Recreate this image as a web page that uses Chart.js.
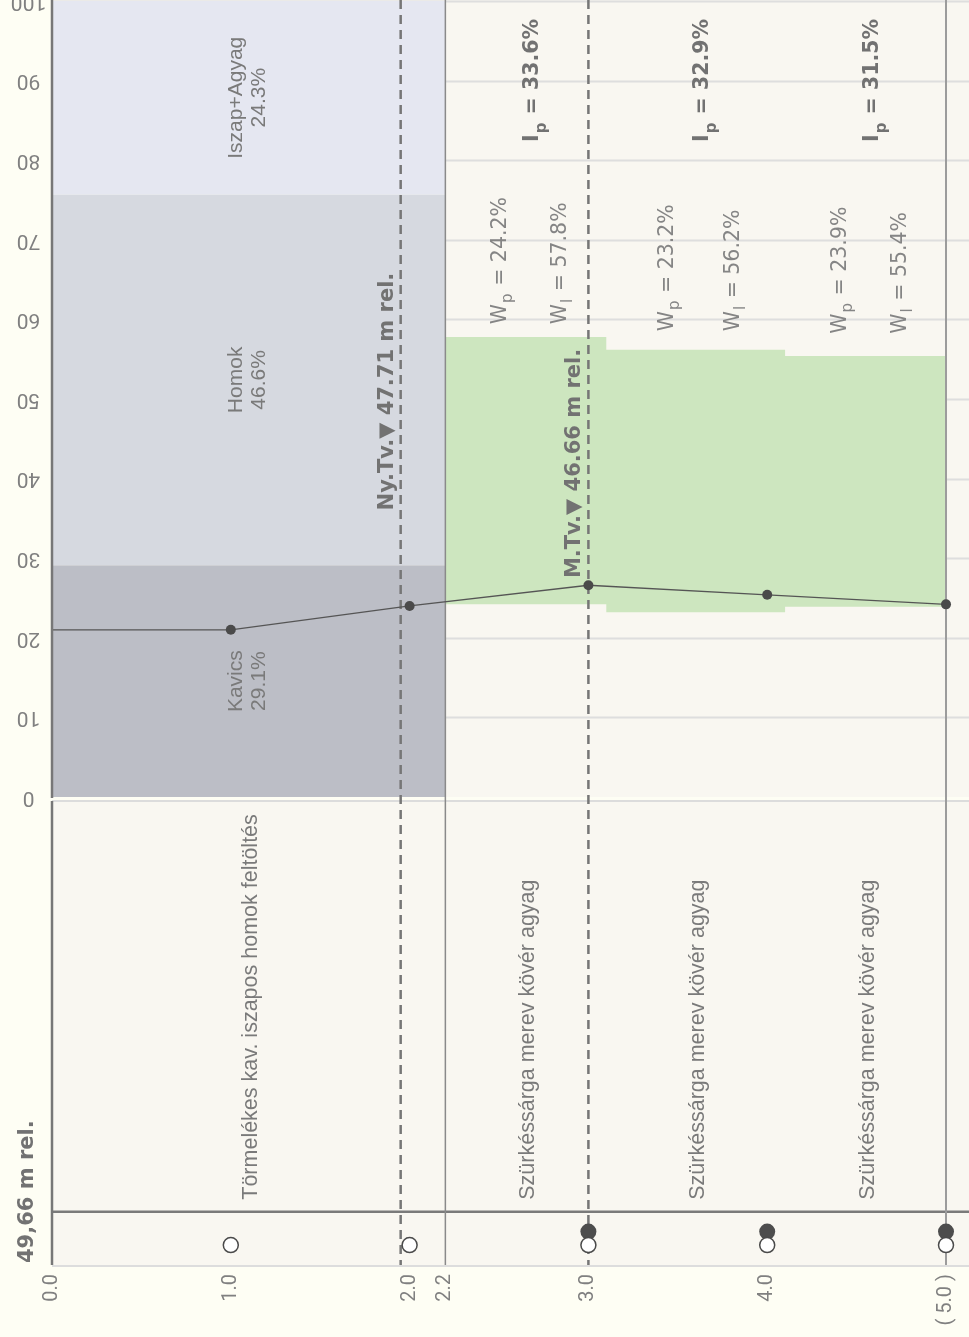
<!DOCTYPE html>
<html><head><meta charset="utf-8">
<script src="https://cdn.jsdelivr.net/npm/chart.js@4/dist/chart.umd.min.js"></script>
<style>
html,body{margin:0;padding:0;background:#fefef4;}
#wrap{width:969px;height:1337px;position:relative;}
canvas{display:block;}
</style></head><body>
<div id="wrap"><canvas id="c" width="969" height="1337"></canvas></div>
<script>
// ---------------- data ----------------
const groundLevel = 49.66;
const groundLabel = '49,66 m rel.';
const depthTicks = [0.0, 1.0, 2.0, 2.2, 3.0, 4.0, 5.0];
const depthTickLabels = ['0.0', '1.0', '2.0', '2.2', '3.0', '4.0', '( 5.0 )'];
const percentTicks = [0, 10, 20, 30, 40, 50, 60, 70, 80, 90, 100];

const fractionNames = ['Kavics', 'Homok', 'Iszap+Agyag'];
const fractionPercents = [29.1, 46.6, 24.3];
const fractionFrom = 0.0;
const fractionTo = 2.2;

const descFrom = [0.0, 2.2, 3.1, 4.1];
const descTo = [2.2, 3.1, 4.1, 5.0];
const descTexts = ['Törmelékes kav. iszapos homok feltöltés', 'Szürkéssárga merev kövér agyag', 'Szürkéssárga merev kövér agyag', 'Szürkéssárga merev kövér agyag'];

const sampleFrom = [2.2, 3.1, 4.1];
const sampleTo = [3.1, 4.1, 5.0];
const wpValues = [24.2, 23.2, 23.9];
const wlValues = [57.8, 56.2, 55.4];
const ipValues = [33.6, 32.9, 31.5];

const wDepths = [0.0, 1.0, 2.0, 3.0, 4.0, 5.0];
const wValues = [21.0, 21.0, 24.0, 26.6, 25.4, 24.2];

const waterNames = ['Ny.Tv.', 'M.Tv.'];
const waterLevels = [47.71, 46.66];

const openSampleDepths = [1.0, 2.0, 3.0, 4.0, 5.0];
const filledSampleDepths = [3.0, 4.0, 5.0];

// ---------------- layout (positions / styles) ----------------
const L = {
  xMax: 5.1286, yMin: -58.8, yMax: 100,
  stripTop: -52.1, filledRow: -54.6, openRow: -56.3,
  waterLabelStart: [36.0, 27.5],
  wLabelStart: [59.4, 58.5, 58.2],
  ipLabelStart: 82.3,
  descStart: -50.6
};
const FONT = '"Liberation Sans", Arial, sans-serif';
const DFONT = '"DejaVu Sans", sans-serif';
const BFONT = '"DejaVu Sans", sans-serif';
const TFONT = 'Roboto, "Liberation Sans", Arial, sans-serif';
const TXT = '#7a7a7a';

// cumulative band tops from fraction percentages
const bandTops = fractionPercents.reduce((acc, v, i) => { acc.push((i ? acc[i - 1] : 0) + v); return acc; }, []);
const bandColors = ['#bcbec6', '#d6d9e0', '#e5e7f1'];

function pts(xs, ys) { return xs.map((x, i) => ({ x, y: ys[i] })); }
function stepPts(from, to, vals) {
  const p = from.map((x, i) => ({ x, y: vals[i] }));
  p.push({ x: to[to.length - 1], y: vals[vals.length - 1] });
  return p;
}

const datasets = [
  { type: 'scatter', label: 'open', data: openSampleDepths.map(d => ({ x: d, y: L.openRow })),
    pointRadius: 7.5, backgroundColor: '#ffffff', borderColor: '#4a4a4a', borderWidth: 1.5 },
  { type: 'scatter', label: 'filled', data: filledSampleDepths.map(d => ({ x: d, y: L.filledRow })),
    pointRadius: 8, backgroundColor: '#4d4d4d', borderColor: '#4d4d4d', borderWidth: 0 },
  { type: 'line', label: 'w', data: pts(wDepths, wValues), borderColor: '#555555', borderWidth: 1.3,
    pointRadius: wDepths.map((d, i) => i === 0 ? 0 : 5), pointBackgroundColor: '#4a4a4a', pointBorderWidth: 0,
    fill: false, tension: 0 },
  { type: 'line', label: 'Wl', data: stepPts(sampleFrom, sampleTo, wlValues), stepped: 'before',
    borderWidth: 0, borderColor: 'rgba(0,0,0,0)', pointRadius: 0, fill: 4, backgroundColor: '#cde6bf' },
  { type: 'line', label: 'Wp', data: stepPts(sampleFrom, sampleTo, wpValues), stepped: 'before',
    borderWidth: 0, borderColor: 'rgba(0,0,0,0)', pointRadius: 0, fill: false },
  { type: 'line', label: fractionNames[2], data: [{ x: fractionFrom, y: bandTops[2] }, { x: fractionTo, y: bandTops[2] }],
    borderWidth: 0, borderColor: 'rgba(0,0,0,0)', pointRadius: 0, fill: 6, backgroundColor: bandColors[2] },
  { type: 'line', label: fractionNames[1], data: [{ x: fractionFrom, y: bandTops[1] }, { x: fractionTo, y: bandTops[1] }],
    borderWidth: 0, borderColor: 'rgba(0,0,0,0)', pointRadius: 0, fill: 7, backgroundColor: bandColors[1] },
  { type: 'line', label: fractionNames[0], data: [{ x: fractionFrom, y: bandTops[0] }, { x: fractionTo, y: bandTops[0] }],
    borderWidth: 0, borderColor: 'rgba(0,0,0,0)', pointRadius: 0, fill: 'origin', backgroundColor: bandColors[0] }
];

function rot(ctx, text, x, y, angle, font, align, baseline, color) {
  ctx.save();
  ctx.translate(x, y); ctx.rotate(angle);
  ctx.font = font; ctx.textAlign = align; ctx.textBaseline = baseline; ctx.fillStyle = color || TXT;
  ctx.fillText(text, 0, 0);
  ctx.restore();
}
function subLabel(ctx, x, y, main, sub, rest, size, bold, subOff, color) {
  const fam = bold ? BFONT : DFONT, w = bold ? 'bold ' : '';
  ctx.save();
  ctx.translate(x, y); ctx.rotate(-Math.PI / 2);
  ctx.fillStyle = color; ctx.textAlign = 'left'; ctx.textBaseline = 'alphabetic';
  ctx.font = w + size + 'px ' + fam;
  ctx.fillText(main, 0, 0);
  let off = ctx.measureText(main).width;
  ctx.font = w + Math.round(size * 0.74) + 'px ' + fam;
  ctx.fillText(sub, off + 1, subOff);
  off += ctx.measureText(sub).width + 2;
  ctx.font = w + size + 'px ' + fam;
  ctx.fillText(rest, off, 0);
  ctx.restore();
}
function hline(ctx, x1, x2, y, color, w) {
  ctx.save(); ctx.strokeStyle = color; ctx.lineWidth = w; ctx.beginPath(); ctx.moveTo(x1, y); ctx.lineTo(x2, y); ctx.stroke(); ctx.restore();
}
function vline(ctx, x, y1, y2, color, w, dash) {
  ctx.save(); ctx.strokeStyle = color; ctx.lineWidth = w; ctx.setLineDash(dash || []);
  ctx.beginPath(); ctx.moveTo(x, y1); ctx.lineTo(x, y2); ctx.stroke(); ctx.restore();
}

const logPlugin = {
  id: 'log',
  beforeDraw(chart) {
    const { ctx, chartArea: a, scales: { x, y } } = chart;
    ctx.save();
    ctx.fillStyle = '#f9f7f1';
    ctx.fillRect(a.left, 0, a.right - a.left, a.bottom);
    ctx.restore();
    percentTicks.forEach(v => { if (v > 0) hline(ctx, a.left, a.right, Math.round(y.getPixelForValue(v)) + 0.5, '#dedede', 2); });
    const y0 = y.getPixelForValue(0);
    ctx.save(); ctx.fillStyle = '#fefef4'; ctx.fillRect(a.left, y0, a.right - a.left, 3); ctx.restore();
    hline(ctx, a.left, a.right, y0 + 4, '#dcdcdc', 2);
    hline(ctx, a.left, a.right, y.getPixelForValue(L.stripTop), '#7a7a7a', 2.5);
    hline(ctx, a.left, a.right, a.bottom + 1, '#dddddd', 2);
    // layer descriptions
    descTexts.forEach((t, i) => {
      const cx = x.getPixelForValue((descFrom[i] + descTo[i]) / 2);
      rot(ctx, t, cx + 8, y.getPixelForValue(L.descStart), -Math.PI / 2, '21.5px ' + FONT, 'left', 'alphabetic');
    });
  },
  beforeDatasetDraw(chart, args) {
    if (chart.data.datasets[args.index].label !== 'w') return;
    const { ctx, chartArea: a, scales: { x, y } } = chart;
    // boundaries
    vline(ctx, x.getPixelForValue(fractionTo), 0, a.bottom, '#8a8a8a', 1.5);
    vline(ctx, x.getPixelForValue(sampleTo[sampleTo.length - 1]), 0, a.bottom, '#9c9c9c', 2);
    // water levels
    waterLevels.forEach((lv, i) => {
      const px = x.getPixelForValue(groundLevel - lv);
      vline(ctx, px, 0, a.bottom, '#767676', 2.5, [9, 6]);
      rot(ctx, waterNames[i] + '\u25BC ' + lv.toFixed(2) + ' m rel.', px - 8, y.getPixelForValue(L.waterLabelStart[i]),
        -Math.PI / 2, 'bold 21px ' + BFONT, 'left', 'alphabetic', '#727272');
    });
    // fraction labels
    const fx = x.getPixelForValue((fractionFrom + fractionTo) / 2);
    fractionNames.forEach((n, i) => {
      const mid = (bandTops[i] - fractionPercents[i] / 2);
      const py = y.getPixelForValue(mid);
      rot(ctx, n, fx - 7, py, -Math.PI / 2, '21px ' + FONT, 'center', 'alphabetic');
      rot(ctx, fractionPercents[i].toFixed(1) + '%', fx + 16, py, -Math.PI / 2, '21px ' + FONT, 'center', 'alphabetic');
    });
    // plasticity labels
    sampleFrom.forEach((f, i) => {
      const t = sampleTo[i], wdt = t - f;
      subLabel(ctx, x.getPixelForValue(f + wdt / 3) + 7, y.getPixelForValue(L.wLabelStart[i]), 'W', 'p', ' = ' + wpValues[i].toFixed(1) + '%', 20.5, false, 6, '#858585');
      subLabel(ctx, x.getPixelForValue(f + wdt * 0.7) + 8, y.getPixelForValue(L.wLabelStart[i]), 'W', 'l', ' = ' + wlValues[i].toFixed(1) + '%', 20.5, false, 6, '#858585');
      subLabel(ctx, x.getPixelForValue(f + wdt / 2) + 12, y.getPixelForValue(L.ipLabelStart), 'I', 'p', ' = ' + ipValues[i].toFixed(1) + '%', 20.5, true, 8, '#727272');
    });
  },
  afterDraw(chart) {
    const { ctx, chartArea: a, scales: { x, y } } = chart;
    const y0 = y.getPixelForValue(0);
    vline(ctx, a.left, 0, y0 + 1, '#777777', 2.5);
    vline(ctx, a.left, y0 + 4, a.bottom, '#777777', 2.5);
    percentTicks.forEach(v => {
      rot(ctx, String(v), 28.5, y.getPixelForValue(v), Math.PI, '21px ' + TFONT, 'center', 'middle', '#808080');
    });
    depthTicks.forEach((d, i) => {
      rot(ctx, depthTickLabels[i], x.getPixelForValue(d), a.bottom + 9, -Math.PI / 2, '20px ' + TFONT, 'right', 'middle', '#808080');
    });
    rot(ctx, groundLabel, 33, a.bottom - 2, -Math.PI / 2, 'bold 21px ' + BFONT, 'left', 'alphabetic', '#727272');
  }
};

new Chart(document.getElementById('c'), {
  type: 'line',
  data: { datasets },
  options: {
    responsive: false, animation: false, events: [],
    layout: { autoPadding: false, padding: { left: 52, right: 0, top: 1, bottom: 72 } },
    scales: {
      x: { type: 'linear', min: 0, max: L.xMax, display: false },
      y: { type: 'linear', min: L.yMin, max: L.yMax, display: false }
    },
    plugins: { legend: { display: false }, tooltip: { enabled: false }, filler: { propagate: false } }
  },
  plugins: [logPlugin]
});
</script>
</body></html>
